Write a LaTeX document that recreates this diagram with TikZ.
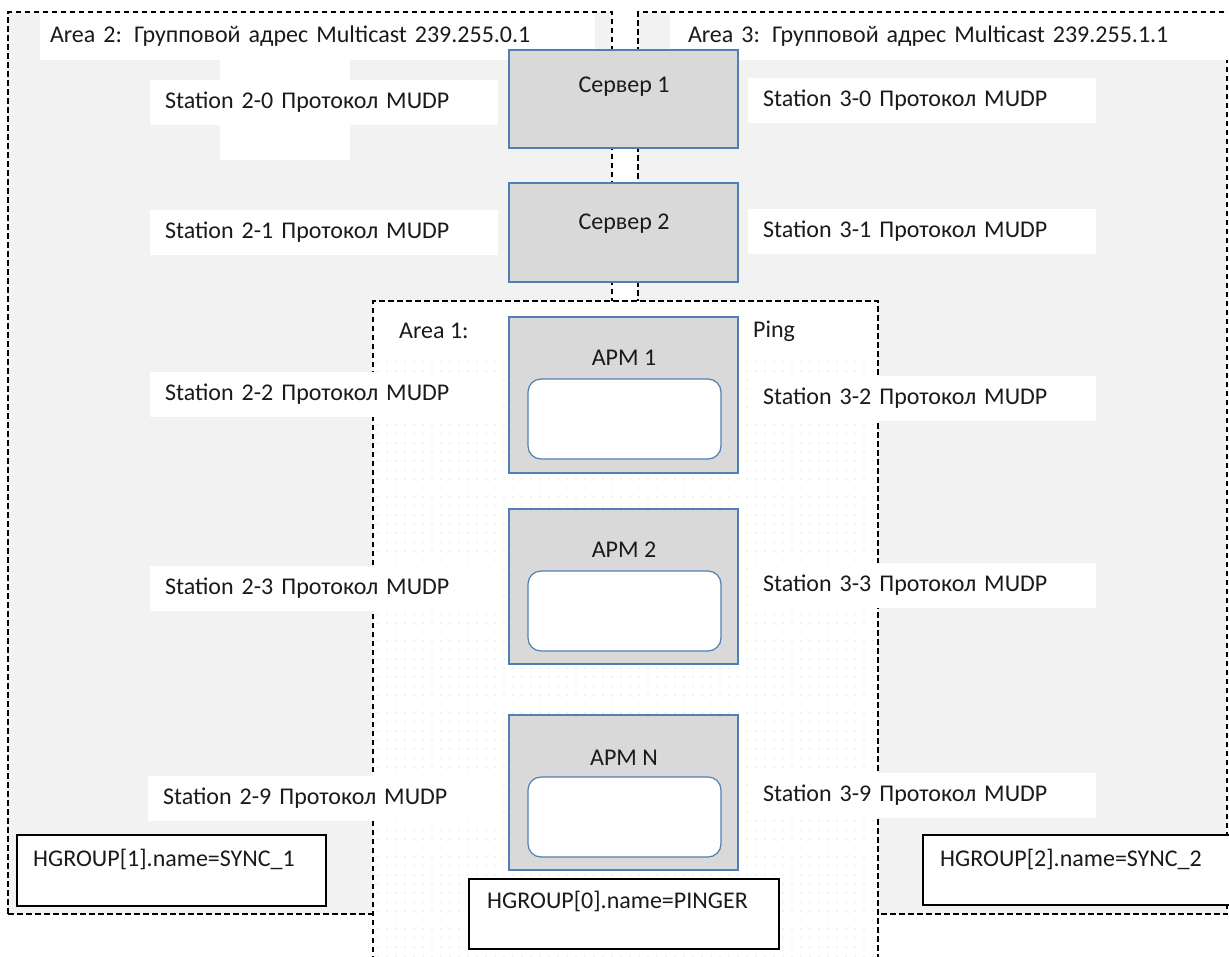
\documentclass[tikz,border=0pt]{standalone}
\usepackage{fontspec}
\setmainfont{Carlito}
\usetikzlibrary{patterns.meta}
\definecolor{areagray}{HTML}{F2F2F2}
\definecolor{boxgray}{HTML}{D9D9D9}
\definecolor{boxblue}{HTML}{4F7FB3}
\definecolor{txt}{HTML}{1A1A1A}
\tikzset{
  dashline/.style={draw=black, line width=1.3pt, dash pattern=on 5.5pt off 3.5pt},
  areabox/.style={dashline, fill=areagray, anchor=north west, inner sep=0pt, outer sep=0pt},
  wlabel/.style={fill=white, anchor=north west, inner xsep=#1, inner ysep=0pt, outer sep=0pt, minimum height=45pt, align=left, text=txt},
  stlabel/.style={wlabel=15pt, text width=318pt},
  srvbox/.style={draw=boxblue, line width=1.2pt, fill=boxgray, anchor=north west, inner sep=0pt, outer sep=0pt, minimum width=229pt},
  innerbox/.style={draw=boxblue, line width=1.2pt, fill=white, rounded corners=13pt, anchor=north west, inner sep=0pt, outer sep=0pt, minimum width=193pt},
  hbox/.style={draw=black, line width=1.3pt, fill=white, anchor=north west, inner sep=0pt, outer sep=0pt},
  plain/.style={text=txt, inner sep=0pt},
}
\begin{document}
\begin{tikzpicture}[x=1pt, y=-1pt, font=\fontsize{24}{28}\selectfont]
\useasboundingbox (0,0) rectangle (1229,956);
\clip (0,0) rectangle (1229,956);
\fill[white] (0,0) rectangle (1229,956);

% Areas 2 and 3
\node[areabox, minimum width=604pt, minimum height=902pt] (area2) at (8,12) {};
\node[areabox, minimum width=589pt, minimum height=902pt] (area3) at (638,12) {};

% Area 1 (open at the bottom)
\fill[white] (373,301) rectangle (878,970);
\fill[pattern={Dots[distance=9pt,radius=0.55pt]}, pattern color=black!22] (376,354) rectangle (875,970);
\draw[dashline] (373,970) -- (373,301) -- (878,301) -- (878,970);
\coordinate (area1) at (626,301);

% Area labels
\node[wlabel=10pt, text width=535pt, minimum height=47pt] (a2lbl) at (40,13) {Area 2: Групповой адрес Multicast 239.255.0.1};
\node[wlabel=18pt, text width=523pt, minimum height=47pt] (a3lbl) at (670,13) {Area 3: Групповой адрес Multicast 239.255.1.1};
\node[fill=white, anchor=north west, inner sep=0pt, minimum width=130pt, minimum height=102pt] (blank) at (220,58) {};

% Stations, left
\node[stlabel] (s20) at (150,80) {Station 2-0 Протокол MUDP};
\node[stlabel] (s21) at (150,210) {Station 2-1 Протокол MUDP};
\node[stlabel] (s22) at (150,372) {Station 2-2 Протокол MUDP};
\node[stlabel] (s23) at (150,566) {Station 2-3 Протокол MUDP};
\node[stlabel] (s29) at (148,776) {Station 2-9 Протокол MUDP};
% Stations, right
\node[stlabel] (s30) at (748,78) {Station 3-0 Протокол MUDP};
\node[stlabel] (s31) at (748,209) {Station 3-1 Протокол MUDP};
\node[stlabel] (s32) at (748,376) {Station 3-2 Протокол MUDP};
\node[stlabel] (s33) at (748,563) {Station 3-3 Протокол MUDP};
\node[stlabel] (s39) at (748,773) {Station 3-9 Протокол MUDP};

% Area 1 texts
\node[plain, anchor=west] (a1lbl) at (399,331) {Area 1:};
\node[plain, anchor=west] (ping) at (753,331) {Ping};

% Servers
\node[srvbox, minimum height=98pt] (srv1) at (509,50) {};
\node[plain] (srv1t) at (624,87) {Сервер 1};
\node[srvbox, minimum height=99pt] (srv2) at (509,183) {};
\node[plain] (srv2t) at (624,224) {Сервер 2};

% Workstations
\node[srvbox, minimum height=156pt] (arm1) at (509,317) {};
\node[plain] (arm1t) at (624,358) {АРМ 1};
\node[innerbox, minimum height=80pt] (arm1in) at (528,379) {};

\node[srvbox, minimum height=155pt] (arm2) at (509,509) {};
\node[plain] (arm2t) at (624,550) {АРМ 2};
\node[innerbox, minimum height=80pt] (arm2in) at (528,571) {};

\node[srvbox, minimum height=155pt] (armn) at (509,715) {};
\node[plain] (armnt) at (624,758) {АРМ N};
\node[innerbox, minimum height=80pt] (armnin) at (528,777) {};

% HGROUP boxes
\node[hbox, minimum width=309pt, minimum height=71pt] (hg1) at (17,835) {};
\node[plain, anchor=west] (hg1t) at (33,859) {HGROUP[1].name=SYNC\_1};
\node[hbox, minimum width=320pt, minimum height=70pt] (hg2) at (923,835) {};
\node[plain, anchor=west] (hg2t) at (940,859) {HGROUP[2].name=SYNC\_2};
\node[hbox, minimum width=310pt, minimum height=70pt] (hg0) at (469,879) {};
\node[plain, anchor=west] (hg0t) at (487,901) {HGROUP[0].name=PINGER};
\end{tikzpicture}
\end{document}
